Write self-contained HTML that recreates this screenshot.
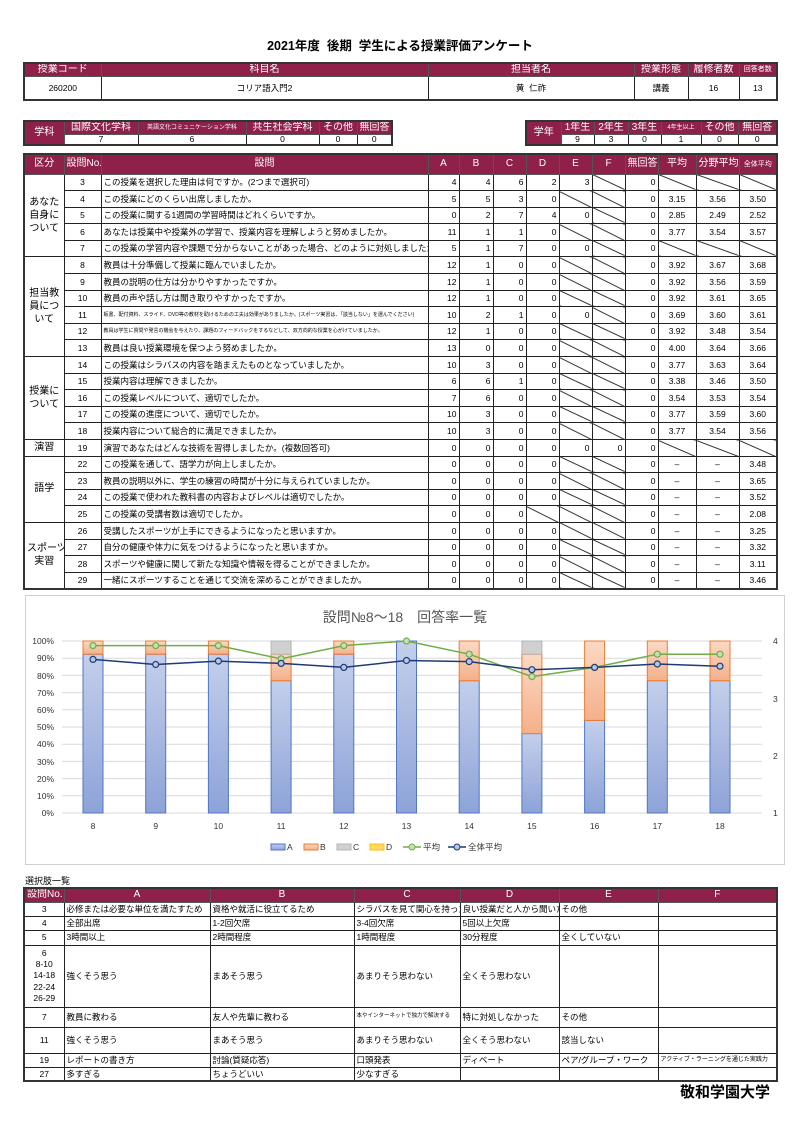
<!DOCTYPE html>
<html><head><meta charset="utf-8">
<style>
*{margin:0;padding:0;box-sizing:border-box}
body{width:800px;height:1131px;background:#fff;position:relative;font-family:"Liberation Sans","Noto Sans CJK JP",sans-serif;color:#000;overflow:hidden}
table{border-collapse:collapse;table-layout:fixed;position:absolute;border:2px solid #333}
td,th{border:1px solid #222;font-size:8.5px;padding:0 2px;white-space:nowrap;overflow:hidden;font-weight:normal;line-height:1}
th{background:#8e2049;color:#fff;font-size:10px;text-align:center;border-color:#555}
.c{text-align:center}.r{text-align:right}
.d{background:linear-gradient(to top right,transparent calc(50% - 0.8px),#000 50%,transparent calc(50% + 0.8px))}
.t{position:absolute;white-space:nowrap}
</style></head><body>
<div class="t" style="left:0;width:800px;top:35px;text-align:center;font-size:12.5px;font-weight:bold">2021年度&nbsp;&nbsp;後期&nbsp;&nbsp;学生による授業評価アンケート</div>

<table style="left:23px;top:62px;width:753px">
<colgroup><col style="width:77px"><col style="width:327px"><col style="width:206px"><col style="width:54px"><col style="width:51px"><col style="width:38px"></colgroup>
<tr style="height:13px"><th>授業コード</th><th>科目名</th><th>担当者名</th><th>授業形態</th><th>履修者数</th><th style="font-size:7px">回答者数</th></tr>
<tr style="height:24px"><td class="c">260200</td><td class="c">コリア語入門2</td><td class="c">黄&nbsp;&nbsp;仁祚</td><td class="c">講義</td><td class="c">16</td><td class="c">13</td></tr>
</table>

<table style="left:23px;top:120px;width:368px">
<colgroup><col style="width:40px"><col style="width:74px"><col style="width:108px"><col style="width:73px"><col style="width:38px"><col style="width:35px"></colgroup>
<tr style="height:13px"><th rowspan="2">学科</th><th>国際文化学科</th><th style="font-size:6px">英語文化コミュニケーション学科</th><th>共生社会学科</th><th>その他</th><th>無回答</th></tr>
<tr style="height:11px"><td class="c">7</td><td class="c">6</td><td class="c">0</td><td class="c">0</td><td class="c">0</td></tr>
</table>

<table style="left:525px;top:120px;width:251px">
<colgroup><col style="width:35px"><col style="width:33px"><col style="width:34px"><col style="width:33px"><col style="width:40px"><col style="width:37px"><col style="width:39px"></colgroup>
<tr style="height:13px"><th rowspan="2">学年</th><th>1年生</th><th>2年生</th><th>3年生</th><th style="font-size:6px">4年生以上</th><th>その他</th><th>無回答</th></tr>
<tr style="height:11px"><td class="c">9</td><td class="c">3</td><td class="c">0</td><td class="c">1</td><td class="c">0</td><td class="c">0</td></tr>
</table>

<table style="left:23px;top:153px;width:753px">
<colgroup><col style="width:40px"><col style="width:37px"><col style="width:327px"><col style="width:31px"><col style="width:34px"><col style="width:33px"><col style="width:33px"><col style="width:33px"><col style="width:33px"><col style="width:33px"><col style="width:38px"><col style="width:43px"><col style="width:38px"></colgroup>
<tr style="height:20px"><th>区分</th><th>設問No.</th><th>設問</th><th>A</th><th>B</th><th>C</th><th>D</th><th>E</th><th>F</th><th>無回答</th><th>平均</th><th>分野平均</th><th style="font-size:7px">全体平均</th></tr>
<tr style="height:16.6px"><td rowspan="5" class="c" style="font-size:10px;line-height:1.3">あなた<br>自身に<br>ついて</td><td class="c">3</td><td>この授業を選択した理由は何ですか。(2つまで選択可)</td><td class="r">4</td><td class="r">4</td><td class="r">6</td><td class="r">2</td><td class="r">3</td><td class="d"></td><td class="r">0</td><td class="d"></td><td class="d"></td><td class="d"></td></tr>
<tr style="height:16.6px"><td class="c">4</td><td>この授業にどのくらい出席しましたか。</td><td class="r">5</td><td class="r">5</td><td class="r">3</td><td class="r">0</td><td class="d"></td><td class="d"></td><td class="r">0</td><td class="c">3.15</td><td class="c">3.56</td><td class="c">3.50</td></tr>
<tr style="height:16.6px"><td class="c">5</td><td>この授業に関する1週間の学習時間はどれくらいですか。</td><td class="r">0</td><td class="r">2</td><td class="r">7</td><td class="r">4</td><td class="r">0</td><td class="d"></td><td class="r">0</td><td class="c">2.85</td><td class="c">2.49</td><td class="c">2.52</td></tr>
<tr style="height:16.6px"><td class="c">6</td><td>あなたは授業中や授業外の学習で、授業内容を理解しようと努めましたか。</td><td class="r">11</td><td class="r">1</td><td class="r">1</td><td class="r">0</td><td class="d"></td><td class="d"></td><td class="r">0</td><td class="c">3.77</td><td class="c">3.54</td><td class="c">3.57</td></tr>
<tr style="height:16.6px"><td class="c">7</td><td>この授業の学習内容や課題で分からないことがあった場合、どのように対処しましたか。</td><td class="r">5</td><td class="r">1</td><td class="r">7</td><td class="r">0</td><td class="r">0</td><td class="d"></td><td class="r">0</td><td class="d"></td><td class="d"></td><td class="d"></td></tr>
<tr style="height:16.6px"><td rowspan="6" class="c" style="font-size:10px;line-height:1.3">担当教<br>員につ<br>いて</td><td class="c">8</td><td>教員は十分準備して授業に臨んでいましたか。</td><td class="r">12</td><td class="r">1</td><td class="r">0</td><td class="r">0</td><td class="d"></td><td class="d"></td><td class="r">0</td><td class="c">3.92</td><td class="c">3.67</td><td class="c">3.68</td></tr>
<tr style="height:16.6px"><td class="c">9</td><td>教員の説明の仕方は分かりやすかったですか。</td><td class="r">12</td><td class="r">1</td><td class="r">0</td><td class="r">0</td><td class="d"></td><td class="d"></td><td class="r">0</td><td class="c">3.92</td><td class="c">3.56</td><td class="c">3.59</td></tr>
<tr style="height:16.6px"><td class="c">10</td><td>教員の声や話し方は聞き取りやすかったですか。</td><td class="r">12</td><td class="r">1</td><td class="r">0</td><td class="r">0</td><td class="d"></td><td class="d"></td><td class="r">0</td><td class="c">3.92</td><td class="c">3.61</td><td class="c">3.65</td></tr>
<tr style="height:16.6px"><td class="c">11</td><td style="font-size:5px">板書、配付資料、スライド、DVD等の教材を助けるための工夫は効果がありましたか。(スポーツ実習は、「該当しない」を選んでください)</td><td class="r">10</td><td class="r">2</td><td class="r">1</td><td class="r">0</td><td class="r">0</td><td class="d"></td><td class="r">0</td><td class="c">3.69</td><td class="c">3.60</td><td class="c">3.61</td></tr>
<tr style="height:16.6px"><td class="c">12</td><td style="font-size:5px">教員は学生に質問や発言の機会を与えたり、課題のフィードバックをするなどして、双方向的な授業を心がけていましたか。</td><td class="r">12</td><td class="r">1</td><td class="r">0</td><td class="r">0</td><td class="d"></td><td class="d"></td><td class="r">0</td><td class="c">3.92</td><td class="c">3.48</td><td class="c">3.54</td></tr>
<tr style="height:16.6px"><td class="c">13</td><td>教員は良い授業環境を保つよう努めましたか。</td><td class="r">13</td><td class="r">0</td><td class="r">0</td><td class="r">0</td><td class="d"></td><td class="d"></td><td class="r">0</td><td class="c">4.00</td><td class="c">3.64</td><td class="c">3.66</td></tr>
<tr style="height:16.6px"><td rowspan="5" class="c" style="font-size:10px;line-height:1.3">授業に<br>ついて</td><td class="c">14</td><td>この授業はシラバスの内容を踏まえたものとなっていましたか。</td><td class="r">10</td><td class="r">3</td><td class="r">0</td><td class="r">0</td><td class="d"></td><td class="d"></td><td class="r">0</td><td class="c">3.77</td><td class="c">3.63</td><td class="c">3.64</td></tr>
<tr style="height:16.6px"><td class="c">15</td><td>授業内容は理解できましたか。</td><td class="r">6</td><td class="r">6</td><td class="r">1</td><td class="r">0</td><td class="d"></td><td class="d"></td><td class="r">0</td><td class="c">3.38</td><td class="c">3.46</td><td class="c">3.50</td></tr>
<tr style="height:16.6px"><td class="c">16</td><td>この授業レベルについて、適切でしたか。</td><td class="r">7</td><td class="r">6</td><td class="r">0</td><td class="r">0</td><td class="d"></td><td class="d"></td><td class="r">0</td><td class="c">3.54</td><td class="c">3.53</td><td class="c">3.54</td></tr>
<tr style="height:16.6px"><td class="c">17</td><td>この授業の進度について、適切でしたか。</td><td class="r">10</td><td class="r">3</td><td class="r">0</td><td class="r">0</td><td class="d"></td><td class="d"></td><td class="r">0</td><td class="c">3.77</td><td class="c">3.59</td><td class="c">3.60</td></tr>
<tr style="height:16.6px"><td class="c">18</td><td>授業内容について総合的に満足できましたか。</td><td class="r">10</td><td class="r">3</td><td class="r">0</td><td class="r">0</td><td class="d"></td><td class="d"></td><td class="r">0</td><td class="c">3.77</td><td class="c">3.54</td><td class="c">3.56</td></tr>
<tr style="height:16.6px"><td class="c" style="font-size:10px">演習</td><td class="c">19</td><td>演習であなたはどんな技術を習得しましたか。(複数回答可)</td><td class="r">0</td><td class="r">0</td><td class="r">0</td><td class="r">0</td><td class="r">0</td><td class="r">0</td><td class="r">0</td><td class="d"></td><td class="d"></td><td class="d"></td></tr>
<tr style="height:16.6px"><td rowspan="4" class="c" style="font-size:10px">語学</td><td class="c">22</td><td>この授業を通して、語学力が向上しましたか。</td><td class="r">0</td><td class="r">0</td><td class="r">0</td><td class="r">0</td><td class="d"></td><td class="d"></td><td class="r">0</td><td class="c">–</td><td class="c">–</td><td class="c">3.48</td></tr>
<tr style="height:16.6px"><td class="c">23</td><td>教員の説明以外に、学生の練習の時間が十分に与えられていましたか。</td><td class="r">0</td><td class="r">0</td><td class="r">0</td><td class="r">0</td><td class="d"></td><td class="d"></td><td class="r">0</td><td class="c">–</td><td class="c">–</td><td class="c">3.65</td></tr>
<tr style="height:16.6px"><td class="c">24</td><td>この授業で使われた教科書の内容およびレベルは適切でしたか。</td><td class="r">0</td><td class="r">0</td><td class="r">0</td><td class="r">0</td><td class="d"></td><td class="d"></td><td class="r">0</td><td class="c">–</td><td class="c">–</td><td class="c">3.52</td></tr>
<tr style="height:16.6px"><td class="c">25</td><td>この授業の受講者数は適切でしたか。</td><td class="r">0</td><td class="r">0</td><td class="r">0</td><td class="d"></td><td class="d"></td><td class="d"></td><td class="r">0</td><td class="c">–</td><td class="c">–</td><td class="c">2.08</td></tr>
<tr style="height:16.6px"><td rowspan="4" class="c" style="font-size:10px;line-height:1.3">スポーツ<br>実習</td><td class="c">26</td><td>受講したスポーツが上手にできるようになったと思いますか。</td><td class="r">0</td><td class="r">0</td><td class="r">0</td><td class="r">0</td><td class="d"></td><td class="d"></td><td class="r">0</td><td class="c">–</td><td class="c">–</td><td class="c">3.25</td></tr>
<tr style="height:16.6px"><td class="c">27</td><td>自分の健康や体力に気をつけるようになったと思いますか。</td><td class="r">0</td><td class="r">0</td><td class="r">0</td><td class="r">0</td><td class="d"></td><td class="d"></td><td class="r">0</td><td class="c">–</td><td class="c">–</td><td class="c">3.32</td></tr>
<tr style="height:16.6px"><td class="c">28</td><td>スポーツや健康に関して新たな知識や情報を得ることができましたか。</td><td class="r">0</td><td class="r">0</td><td class="r">0</td><td class="r">0</td><td class="d"></td><td class="d"></td><td class="r">0</td><td class="c">–</td><td class="c">–</td><td class="c">3.11</td></tr>
<tr style="height:16.6px"><td class="c">29</td><td>一緒にスポーツすることを通じて交流を深めることができましたか。</td><td class="r">0</td><td class="r">0</td><td class="r">0</td><td class="r">0</td><td class="d"></td><td class="d"></td><td class="r">0</td><td class="c">–</td><td class="c">–</td><td class="c">3.46</td></tr>
</table>

<svg style="position:absolute;left:25px;top:595px" width="760" height="270" viewBox="25 595 760 270" font-family="Liberation Sans, Noto Sans CJK JP, sans-serif">
<defs>
<linearGradient id="ga" x1="0" y1="0" x2="0" y2="1"><stop offset="0" stop-color="#c3cfeb"/><stop offset="1" stop-color="#8da3d8"/></linearGradient>
<linearGradient id="gb" x1="0" y1="0" x2="0" y2="1"><stop offset="0" stop-color="#fbd9c4"/><stop offset="1" stop-color="#f4b08a"/></linearGradient>
</defs>
<rect x="25.5" y="595.5" width="759" height="269" fill="#fff" stroke="#d0d0d0"/>
<text x="405" y="622" font-size="14" fill="#555" text-anchor="middle">設問№8～18　回答率一覧</text>
<g stroke="#d9d9d9" stroke-width="1">
<line x1="62" x2="762" y1="813" y2="813"/><line x1="62" x2="762" y1="795.8" y2="795.8"/><line x1="62" x2="762" y1="778.6" y2="778.6"/><line x1="62" x2="762" y1="761.4" y2="761.4"/><line x1="62" x2="762" y1="744.2" y2="744.2"/><line x1="62" x2="762" y1="727" y2="727"/><line x1="62" x2="762" y1="709.8" y2="709.8"/><line x1="62" x2="762" y1="692.6" y2="692.6"/><line x1="62" x2="762" y1="675.4" y2="675.4"/><line x1="62" x2="762" y1="658.2" y2="658.2"/><line x1="62" x2="762" y1="641" y2="641"/>
</g>
<g font-size="8.5" fill="#333" text-anchor="end">
<text x="54" y="816">0%</text><text x="54" y="799">10%</text><text x="54" y="782">20%</text><text x="54" y="765">30%</text><text x="54" y="747">40%</text><text x="54" y="730">50%</text><text x="54" y="713">60%</text><text x="54" y="696">70%</text><text x="54" y="679">80%</text><text x="54" y="661">90%</text><text x="54" y="644">100%</text>
</g>
<g font-size="8.5" fill="#333"><text x="773" y="816">1</text><text x="773" y="759">2</text><text x="773" y="702">3</text><text x="773" y="644">4</text></g>
<g stroke-width="1">
<g fill="url(#ga)" stroke="#4f76c8">
<rect x="83" y="654.2" width="20" height="158.8"/><rect x="145.7" y="654.2" width="20" height="158.8"/><rect x="208.4" y="654.2" width="20" height="158.8"/><rect x="271.1" y="680.7" width="20" height="132.3"/><rect x="333.8" y="654.2" width="20" height="158.8"/><rect x="396.5" y="641" width="20" height="172"/><rect x="459.2" y="680.7" width="20" height="132.3"/><rect x="521.9" y="733.6" width="20" height="79.4"/><rect x="584.6" y="720.4" width="20" height="92.6"/><rect x="647.3" y="680.7" width="20" height="132.3"/><rect x="710" y="680.7" width="20" height="132.3"/>
</g>
<g fill="url(#gb)" stroke="#ed7d31">
<rect x="83" y="641" width="20" height="13.2"/><rect x="145.7" y="641" width="20" height="13.2"/><rect x="208.4" y="641" width="20" height="13.2"/><rect x="271.1" y="654.2" width="20" height="26.5"/><rect x="333.8" y="641" width="20" height="13.2"/><rect x="459.2" y="641" width="20" height="39.7"/><rect x="521.9" y="654.2" width="20" height="79.4"/><rect x="584.6" y="641" width="20" height="79.4"/><rect x="647.3" y="641" width="20" height="39.7"/><rect x="710" y="641" width="20" height="39.7"/>
</g>
<g fill="#d0d0d0" stroke="#b5b5b5">
<rect x="271.1" y="641" width="20" height="13.2"/><rect x="521.9" y="641" width="20" height="13.2"/>
</g>
</g>
<polyline fill="none" stroke="#70ad47" stroke-width="1.5" points="93,645.6 155.7,645.6 218.4,645.6 281.1,658.8 343.8,645.6 406.5,641 469.2,654.2 531.9,676.6 594.6,667.4 657.3,654.2 720,654.2"/>
<g fill="#c5e0b4" stroke="#70ad47" stroke-width="1.2">
<circle cx="93" cy="645.6" r="3"/><circle cx="155.7" cy="645.6" r="3"/><circle cx="218.4" cy="645.6" r="3"/><circle cx="281.1" cy="658.8" r="3"/><circle cx="343.8" cy="645.6" r="3"/><circle cx="406.5" cy="641" r="3"/><circle cx="469.2" cy="654.2" r="3"/><circle cx="531.9" cy="676.6" r="3"/><circle cx="594.6" cy="667.4" r="3"/><circle cx="657.3" cy="654.2" r="3"/><circle cx="720" cy="654.2" r="3"/>
</g>
<polyline fill="none" stroke="#1f3b73" stroke-width="1.5" points="93,659.4 155.7,664.5 218.4,661.1 281.1,663.4 343.8,667.4 406.5,660.5 469.2,661.6 531.9,669.7 594.6,667.4 657.3,664 720,666.2"/>
<g fill="#b4c7e7" stroke="#1f3b73" stroke-width="1.2">
<circle cx="93" cy="659.4" r="3"/><circle cx="155.7" cy="664.5" r="3"/><circle cx="218.4" cy="661.1" r="3"/><circle cx="281.1" cy="663.4" r="3"/><circle cx="343.8" cy="667.4" r="3"/><circle cx="406.5" cy="660.5" r="3"/><circle cx="469.2" cy="661.6" r="3"/><circle cx="531.9" cy="669.7" r="3"/><circle cx="594.6" cy="667.4" r="3"/><circle cx="657.3" cy="664" r="3"/><circle cx="720" cy="666.2" r="3"/>
</g>
<g font-size="8.5" fill="#333" text-anchor="middle">
<text x="93" y="829">8</text><text x="155.7" y="829">9</text><text x="218.4" y="829">10</text><text x="281.1" y="829">11</text><text x="343.8" y="829">12</text><text x="406.5" y="829">13</text><text x="469.2" y="829">14</text><text x="531.9" y="829">15</text><text x="594.6" y="829">16</text><text x="657.3" y="829">17</text><text x="720" y="829">18</text>
</g>
<g font-size="8.5" fill="#333">
<rect x="271" y="844" width="14" height="6" fill="url(#ga)" stroke="#4f76c8"/><text x="287" y="850">A</text>
<rect x="304" y="844" width="14" height="6" fill="url(#gb)" stroke="#ed7d31"/><text x="320" y="850">B</text>
<rect x="337" y="844" width="14" height="6" fill="#d0d0d0" stroke="#b5b5b5"/><text x="353" y="850">C</text>
<rect x="370" y="844" width="14" height="6" fill="#ffd966" stroke="#ffc000"/><text x="386" y="850">D</text>
<line x1="403" x2="421" y1="847" y2="847" stroke="#70ad47" stroke-width="1.5"/><circle cx="412" cy="847" r="3" fill="#c5e0b4" stroke="#70ad47"/><text x="423" y="850">平均</text>
<line x1="448" x2="466" y1="847" y2="847" stroke="#1f3b73" stroke-width="1.5"/><circle cx="457" cy="847" r="3" fill="#b4c7e7" stroke="#1f3b73"/><text x="468" y="850">全体平均</text>
</g>
</svg>

<div class="t" style="left:25px;top:874px;font-size:9px">選択肢一覧</div>
<table style="left:23px;top:887px;width:753px">
<colgroup><col style="width:40px"><col style="width:146px"><col style="width:144px"><col style="width:106px"><col style="width:99px"><col style="width:99px"><col style="width:119px"></colgroup>
<tr style="height:14px"><th>設問No.</th><th>A</th><th>B</th><th>C</th><th>D</th><th>E</th><th>F</th></tr>
<tr style="height:14px"><td class="c">3</td><td>必修または必要な単位を満たすため</td><td>資格や就活に役立てるため</td><td>シラバスを見て関心を持った</td><td>良い授業だと人から聞いた</td><td>その他</td><td></td></tr>
<tr style="height:14px"><td class="c">4</td><td>全部出席</td><td>1-2回欠席</td><td>3-4回欠席</td><td>5回以上欠席</td><td></td><td></td></tr>
<tr style="height:15px"><td class="c">5</td><td>3時間以上</td><td>2時間程度</td><td>1時間程度</td><td>30分程度</td><td>全くしていない</td><td></td></tr>
<tr style="height:62px"><td class="c" style="line-height:1.3">6<br>8-10<br>14-18<br>22-24<br>26-29</td><td>強くそう思う</td><td>まあそう思う</td><td>あまりそう思わない</td><td>全くそう思わない</td><td></td><td></td></tr>
<tr style="height:20px"><td class="c">7</td><td>教員に教わる</td><td>友人や先輩に教わる</td><td style="font-size:5.5px">本やインターネットで独力で解決する</td><td>特に対処しなかった</td><td>その他</td><td></td></tr>
<tr style="height:26px"><td class="c">11</td><td>強くそう思う</td><td>まあそう思う</td><td>あまりそう思わない</td><td>全くそう思わない</td><td>該当しない</td><td></td></tr>
<tr style="height:14px"><td class="c">19</td><td>レポートの書き方</td><td>討論(質疑応答)</td><td>口頭発表</td><td>ディベート</td><td>ペア/グループ・ワーク</td><td style="font-size:6px">アクティブ・ラーニングを通じた実践力</td></tr>
<tr style="height:14px"><td class="c">27</td><td>多すぎる</td><td>ちょうどいい</td><td>少なすぎる</td><td></td><td></td><td></td></tr>
</table>
<div class="t" style="left:680px;top:1081px;font-size:15px;font-weight:bold">敬和学園大学</div>
</body></html>
